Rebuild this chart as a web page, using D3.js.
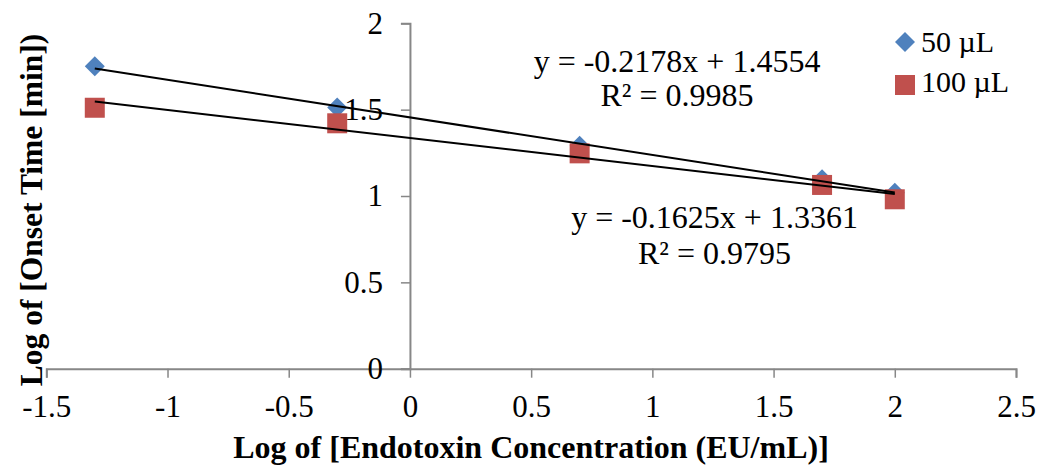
<!DOCTYPE html>
<html><head><meta charset="utf-8">
<script src="https://cdn.jsdelivr.net/npm/d3@7"></script>
<style>body{margin:0;background:#fff}svg{display:block}text{font-family:"Liberation Serif","Times New Roman",serif}</style>
</head><body><div id="chart"></div>
<script>
const xValues = [-1.3, -0.3, 0.7, 1.7, 2.0];
const series50 = [1.751, 1.513, 1.291, 1.097, 1.019];
const series100 = [1.511, 1.421, 1.247, 1.064, 0.981];
const seriesNames = ["50 µL", "100 µL"];
const trendSlopes = [-0.2178, -0.1625];
const trendIntercepts = [1.4554, 1.3361];
const trendEquations = ["y = -0.2178x + 1.4554", "y = -0.1625x + 1.3361"];
const trendR2 = ["R² = 0.9985", "R² = 0.9795"];
const xTicks = [-1.5, -1, -0.5, 0, 0.5, 1, 1.5, 2, 2.5];
const yTicks = [0, 0.5, 1, 1.5, 2];

const W = 1041, H = 466;
const svg = d3.select("#chart").append("svg").attr("width", W).attr("height", H);
const x = d3.scaleLinear().domain([-1.5, 2.5]).range([46.3, 1016]);
const y = d3.scaleLinear().domain([0, 2]).range([368.7, 23.3]);
const axisColor = "#878787";
const FF = "Liberation Serif";

// x axis at y=0
const xAxis = svg.append("g").attr("transform", `translate(0,${y(0)})`)
  .call(d3.axisBottom(x).tickValues(xTicks).tickSize(9).tickPadding(17).tickFormat(d => String(d)));
xAxis.select(".domain").attr("stroke", axisColor).attr("stroke-width", 2);
xAxis.selectAll(".tick line").attr("stroke", axisColor).attr("stroke-width", 1.5);
xAxis.selectAll(".tick text").attr("font-size", 31).attr("fill", "#000").attr("font-family", FF);

// y axis at x=0
const yAxis = svg.append("g").attr("transform", `translate(${x(0)},0)`)
  .call(d3.axisLeft(y).tickValues(yTicks).tickSize(9).tickPadding(18).tickFormat(d => String(d)));
yAxis.select(".domain").attr("stroke", axisColor).attr("stroke-width", 2);
yAxis.selectAll(".tick line").attr("stroke", axisColor).attr("stroke-width", 1.5);
yAxis.selectAll(".tick text").attr("font-size", 31).attr("fill", "#000").attr("font-family", FF);

// markers
const pts50 = xValues.map((v, i) => [v, series50[i]]);
const pts100 = xValues.map((v, i) => [v, series100[i]]);
const diamond = d3.symbol().type(d3.symbolSquare).size(200);
svg.append("g").selectAll("path").data(pts50).join("path")
  .attr("d", diamond).attr("fill", "#4F81BD")
  .attr("transform", d => `translate(${x(d[0])},${y(d[1])}) rotate(45)`);
svg.append("g").selectAll("rect").data(pts100).join("rect")
  .attr("x", d => x(d[0]) - 10).attr("y", d => y(d[1]) - 10)
  .attr("width", 20).attr("height", 20).attr("fill", "#C0504D");

// trend lines
const xMin = d3.min(xValues), xMax = d3.max(xValues);
trendSlopes.forEach((m, i) => {
  const b = trendIntercepts[i];
  svg.append("line")
    .attr("x1", x(xMin)).attr("y1", y(m * xMin + b))
    .attr("x2", x(xMax)).attr("y2", y(m * xMax + b))
    .attr("stroke", "#000").attr("stroke-width", 2);
});

// equation labels
const eqPos = [[677, 72, 106], [714.5, 228, 264]];
trendEquations.forEach((t, i) => {
  svg.append("text").attr("x", eqPos[i][0]).attr("y", eqPos[i][1]).attr("text-anchor", "middle")
    .attr("font-size", 32).text(t);
  svg.append("text").attr("x", eqPos[i][0]).attr("y", eqPos[i][2]).attr("text-anchor", "middle")
    .attr("font-size", 32).text(trendR2[i]);
});

// legend
const lg = svg.append("g");
lg.append("path").attr("d", d3.symbol().type(d3.symbolSquare).size(200)())
  .attr("transform", "translate(905,42) rotate(45)").attr("fill", "#4F81BD");
lg.append("text").attr("x", 921).attr("y", 52).attr("font-size", 30).text(seriesNames[0]);
lg.append("rect").attr("x", 895).attr("y", 75).attr("width", 20).attr("height", 20).attr("fill", "#C0504D");
lg.append("text").attr("x", 921).attr("y", 92).attr("font-size", 30).text(seriesNames[1]);

// axis titles
svg.append("text").attr("x", 531).attr("y", 458).attr("text-anchor", "middle")
  .attr("font-size", 32).attr("font-weight", "bold").text("Log of [Endotoxin Concentration (EU/mL)]");
svg.append("text").attr("transform", "translate(42,210) rotate(-90)").attr("text-anchor", "middle")
  .attr("font-size", 31.5).attr("font-weight", "bold").text("Log of [Onset Time [min])");
</script></body></html>
